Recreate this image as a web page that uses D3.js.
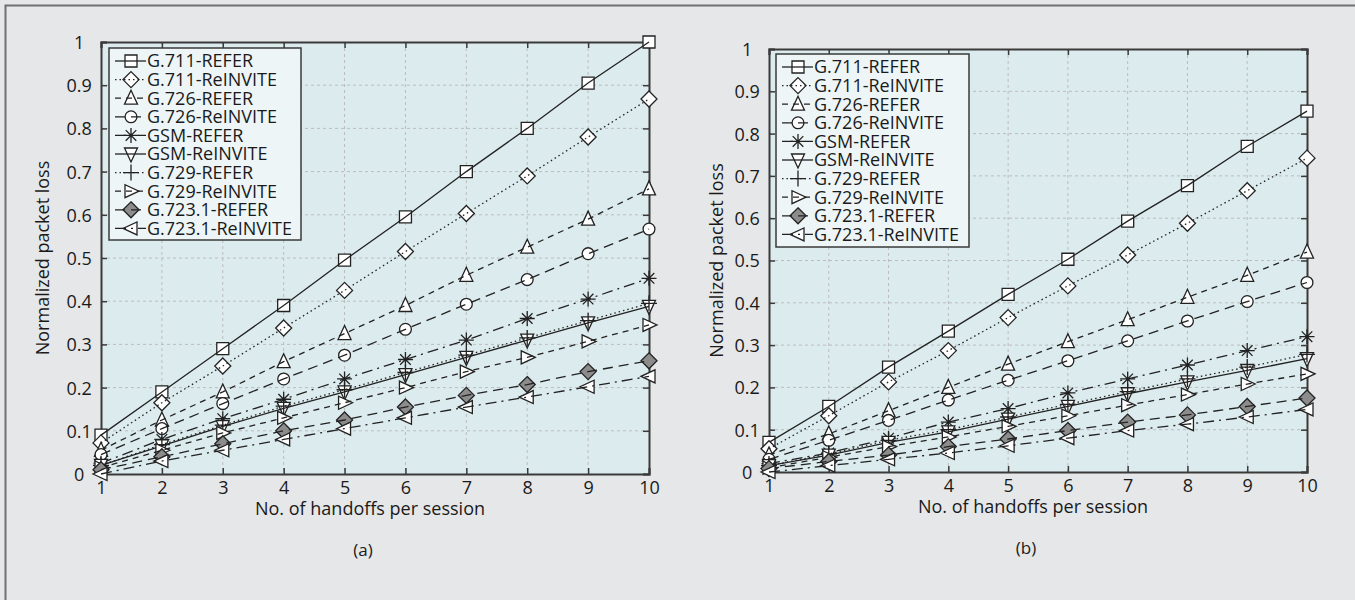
<!DOCTYPE html>
<html>
<head>
<meta charset="utf-8">
<script src="https://cdn.jsdelivr.net/npm/d3@7"></script>
<style>
    body { margin: 0; background: #e6e7e8; }
    text { font-family: 'Open Sans', 'Noto Sans', sans-serif; fill: #1a1a1a; }
</style>
</head>
<body>
<svg id="chart" width="1355" height="600"></svg>
<script>
// Data
const handoffs = [1, 2, 3, 4, 5, 6, 7, 8, 9, 10]
const yTicks = [0, 0.1, 0.2, 0.3, 0.4, 0.5, 0.6, 0.7, 0.8, 0.9, 1]
const seriesNames = ['G.711-REFER', 'G.711-ReINVITE', 'G.726-REFER', 'G.726-ReINVITE', 'GSM-REFER',
    'GSM-ReINVITE', 'G.729-REFER', 'G.729-ReINVITE', 'G.723.1-REFER', 'G.723.1-ReINVITE']

// panel (a)
const g711ReferA    = [0.09, 0.19, 0.29, 0.39, 0.495, 0.595, 0.70, 0.80, 0.905, 1.0]
const g711ReinvA    = [0.072, 0.165, 0.25, 0.338, 0.425, 0.515, 0.603, 0.69, 0.78, 0.868]
const g726ReferA    = [0.055, 0.125, 0.19, 0.26, 0.325, 0.39, 0.46, 0.525, 0.59, 0.66]
const g726ReinvA    = [0.045, 0.105, 0.163, 0.22, 0.275, 0.335, 0.393, 0.45, 0.51, 0.567]
const gsmReferA     = [0.025, 0.08, 0.128, 0.173, 0.22, 0.265, 0.31, 0.36, 0.405, 0.453]
const gsmReinvA     = [0.02, 0.065, 0.11, 0.152, 0.19, 0.23, 0.27, 0.31, 0.35, 0.388]
const g729ReferA    = [0.02, 0.068, 0.113, 0.157, 0.195, 0.235, 0.275, 0.315, 0.355, 0.395]
const g729ReinvA    = [0.015, 0.055, 0.095, 0.13, 0.165, 0.2, 0.237, 0.27, 0.307, 0.345]
const g7231ReferA   = [0.01, 0.04, 0.07, 0.10, 0.125, 0.155, 0.182, 0.207, 0.237, 0.262]
const g7231ReinvA   = [0.0, 0.03, 0.055, 0.08, 0.105, 0.13, 0.155, 0.178, 0.202, 0.226]

// panel (b)
const g711ReferB    = [0.07, 0.155, 0.248, 0.333, 0.42, 0.503, 0.593, 0.677, 0.77, 0.853]
const g711ReinvB    = [0.055, 0.133, 0.213, 0.287, 0.365, 0.44, 0.513, 0.588, 0.665, 0.742]
const g726ReferB    = [0.04, 0.09, 0.145, 0.2, 0.255, 0.308, 0.36, 0.413, 0.465, 0.52]
const g726ReinvB    = [0.03, 0.075, 0.122, 0.17, 0.217, 0.263, 0.31, 0.357, 0.403, 0.448]
const gsmReferB     = [0.02, 0.045, 0.08, 0.118, 0.15, 0.187, 0.22, 0.253, 0.287, 0.32]
const gsmReinvB     = [0.015, 0.04, 0.07, 0.095, 0.125, 0.155, 0.185, 0.213, 0.24, 0.268]
const g729ReferB    = [0.015, 0.043, 0.075, 0.1, 0.13, 0.16, 0.19, 0.22, 0.248, 0.278]
const g729ReinvB    = [0.01, 0.035, 0.06, 0.083, 0.108, 0.133, 0.158, 0.183, 0.208, 0.232]
const g7231ReferB   = [0.008, 0.025, 0.04, 0.06, 0.078, 0.098, 0.118, 0.135, 0.155, 0.175]
const g7231ReinvB   = [0.0, 0.015, 0.03, 0.045, 0.062, 0.08, 0.098, 0.113, 0.13, 0.148]

const seriesA = [g711ReferA, g711ReinvA, g726ReferA, g726ReinvA, gsmReferA, gsmReinvA, g729ReferA, g729ReinvA, g7231ReferA, g7231ReinvA]
const seriesB = [g711ReferB, g711ReinvB, g726ReferB, g726ReinvB, gsmReferB, gsmReinvB, g729ReferB, g729ReinvB, g7231ReferB, g7231ReinvB]

// Line / marker styles per series
const styles = [
    { shape: 'square', dash: null },
    { shape: 'diamond', dash: '1.5,3' },
    { shape: 'triUp', dash: '6,5' },
    { shape: 'circle', dash: '10,6' },
    { shape: 'asterisk', dash: '11,5,2,5' },
    { shape: 'triDown', dash: null },
    { shape: 'plus', dash: '1.5,3' },
    { shape: 'triRight', dash: '6,5' },
    { shape: 'diamondFill', dash: '10,6' },
    { shape: 'triLeft', dash: '11,5,2,5' }
]

const ink = '#222'

const markerPath = (shape) => {
    if (shape === 'square') return 'M-6,-6H6V6H-6Z'
    if (shape === 'diamond' || shape === 'diamondFill') return 'M0,-8L8,0L0,8L-8,0Z'
    if (shape === 'triUp') return 'M0,-8L6.5,6L-6.5,6Z'
    if (shape === 'triDown') return 'M0,8L6.5,-6L-6.5,-6Z'
    if (shape === 'triRight') return 'M8,0L-6,6.5L-6,-6.5Z'
    if (shape === 'triLeft') return 'M-8,0L6,6.5L6,-6.5Z'
    if (shape === 'circle') return d3.symbol(d3.symbolCircle, 110)()
    if (shape === 'plus') return 'M0,-8V8M-8,0H8'
    if (shape === 'asterisk') return 'M0,-7.5V7.5M-7.5,0H7.5M-5.3,-5.3L5.3,5.3M5.3,-5.3L-5.3,5.3'
}

const drawMarker = (g, shape, x, y) => {
    let open = (shape === 'plus' || shape === 'asterisk')
    g.append('path')
        .attr('d', markerPath(shape))
        .attr('transform', 'translate(' + x + ',' + y + ')')
        .attr('fill', open ? 'none' : (shape === 'diamondFill' ? '#8c8c8c' : '#fff'))
        .attr('stroke', ink)
        .attr('stroke-width', 1.3)
}

let svg = d3.select('#chart')

// Outer frame
svg.append('rect')
    .attr('x', 5.5).attr('y', 5.5)
    .attr('width', 1360).attr('height', 600)
    .attr('fill', '#e6e7e8')
    .attr('stroke', '#707070')
    .attr('stroke-width', 2)

const drawPanel = (p) => {
    let g = svg.append('g')

    let xScale = d3.scaleLinear().domain([1, 10]).range([p.left, p.right])
    let yScale = d3.scaleLinear().domain([0, 1]).range([p.bottom, p.top])

    // plot background
    g.append('rect')
        .attr('x', p.left).attr('y', p.top)
        .attr('width', p.right - p.left).attr('height', p.bottom - p.top)
        .attr('fill', '#dcebee')

    // grid
    g.append('g').selectAll('line')
        .data(handoffs.slice(1, -1))
        .enter()
        .append('line')
        .attr('x1', (d) => xScale(d)).attr('x2', (d) => xScale(d))
        .attr('y1', p.top).attr('y2', p.bottom)
        .attr('stroke', '#bcbcbc').attr('stroke-dasharray', '3,3')
    g.append('g').selectAll('line')
        .data(yTicks.slice(1, -1))
        .enter()
        .append('line')
        .attr('y1', (d) => yScale(d)).attr('y2', (d) => yScale(d))
        .attr('x1', p.left).attr('x2', p.right)
        .attr('stroke', '#bcbcbc').attr('stroke-dasharray', '3,3')

    // axes with inward ticks on all sides
    let xAxis = d3.axisBottom(xScale).tickValues(handoffs).tickSize(-6).tickPadding(7)
    let yAxis = d3.axisLeft(yScale).tickValues(yTicks).tickSize(-6).tickPadding(12)
        .tickFormat((d) => d === 0 ? '0' : d === 1 ? '1' : d3.format('.1f')(d))

    let gx = g.append('g')
        .attr('transform', 'translate(0,' + p.bottom + ')')
        .call(xAxis)
    let gy = g.append('g')
        .attr('transform', 'translate(' + p.left + ',0)')
        .call(yAxis)
    g.append('g')
        .attr('transform', 'translate(0,' + p.top + ')')
        .call(d3.axisTop(xScale).tickValues(handoffs).tickSize(-6).tickFormat(''))
    g.append('g')
        .attr('transform', 'translate(' + p.right + ',0)')
        .call(d3.axisRight(yScale).tickValues(yTicks).tickSize(-6).tickFormat(''))

    g.selectAll('.domain').attr('stroke', '#3a3a3a').attr('stroke-width', 2)
    g.selectAll('.tick line').attr('stroke', '#3a3a3a').attr('stroke-width', 1.5)
    gx.selectAll('text').attr('font-size', '18px').attr('fill', '#1a1a1a')
        .attr('font-family', "'Open Sans', sans-serif")
    gy.selectAll('text').attr('font-size', '18px').attr('fill', '#1a1a1a')
        .attr('font-family', "'Open Sans', sans-serif")
        .attr('text-anchor', 'middle').attr('dx', '-0.55em').attr('dy', '0.36em')

    // series: marker first, then line on top
    let line = d3.line()
        .x((d, i) => xScale(handoffs[i]))
        .y((d) => yScale(d))

    p.series.forEach((values, s) => {
        let sg = g.append('g')
        values.forEach((v, i) => {
            drawMarker(sg, styles[s].shape, xScale(handoffs[i]), yScale(v))
        })
        sg.append('path')
            .datum(values)
            .attr('d', line)
            .attr('fill', 'none')
            .attr('stroke', ink)
            .attr('stroke-width', 1.3)
            .attr('stroke-dasharray', styles[s].dash)
    })

    // legend
    let lg = g.append('g')
    lg.append('rect')
        .attr('x', p.legend.x).attr('y', p.legend.y)
        .attr('width', p.legend.w).attr('height', p.legend.h)
        .attr('fill', '#edf5f7')
        .attr('stroke', '#3a3a3a').attr('stroke-width', 1.5)
    seriesNames.forEach((name, s) => {
        let cy = p.legend.y + 13 + s * 18.6
        let mx = p.legend.x + 22
        drawMarker(lg, styles[s].shape, mx, cy)
        lg.append('line')
            .attr('x1', p.legend.x + 6).attr('x2', p.legend.x + 37)
            .attr('y1', cy).attr('y2', cy)
            .attr('stroke', ink).attr('stroke-width', 1.3)
            .attr('stroke-dasharray', styles[s].dash)
        lg.append('text')
            .attr('x', p.legend.x + 38)
            .attr('y', cy)
            .attr('dy', '0.36em')
            .attr('font-size', '18px')
            .text(name)
    })

    // titles
    let cx = (p.left + p.right) / 2
    g.append('text')
        .attr('x', cx - 5).attr('y', p.bottom + 41)
        .attr('text-anchor', 'middle')
        .attr('font-size', '18px')
        .text('No. of handoffs per session')
    g.append('text')
        .attr('x', cx - 12).attr('y', p.bottom + 82)
        .attr('text-anchor', 'middle')
        .attr('font-size', '17px')
        .text(p.label)
    g.append('text')
        .attr('transform', 'translate(' + p.yTitleX + ',' + ((p.top + p.bottom) / 2) + ') rotate(-90)')
        .attr('text-anchor', 'middle')
        .attr('font-size', '18px')
        .text('Normalized packet loss')
}

drawPanel({
    left: 101, right: 649, top: 42, bottom: 474,
    series: seriesA, label: '(a)', yTitleX: 49,
    legend: { x: 109, y: 48, w: 192, h: 192 }
})
drawPanel({
    left: 769, right: 1307, top: 49, bottom: 472,
    series: seriesB, label: '(b)', yTitleX: 723,
    legend: { x: 776, y: 54, w: 193, h: 193 }
})
</script>
</body>
</html>
